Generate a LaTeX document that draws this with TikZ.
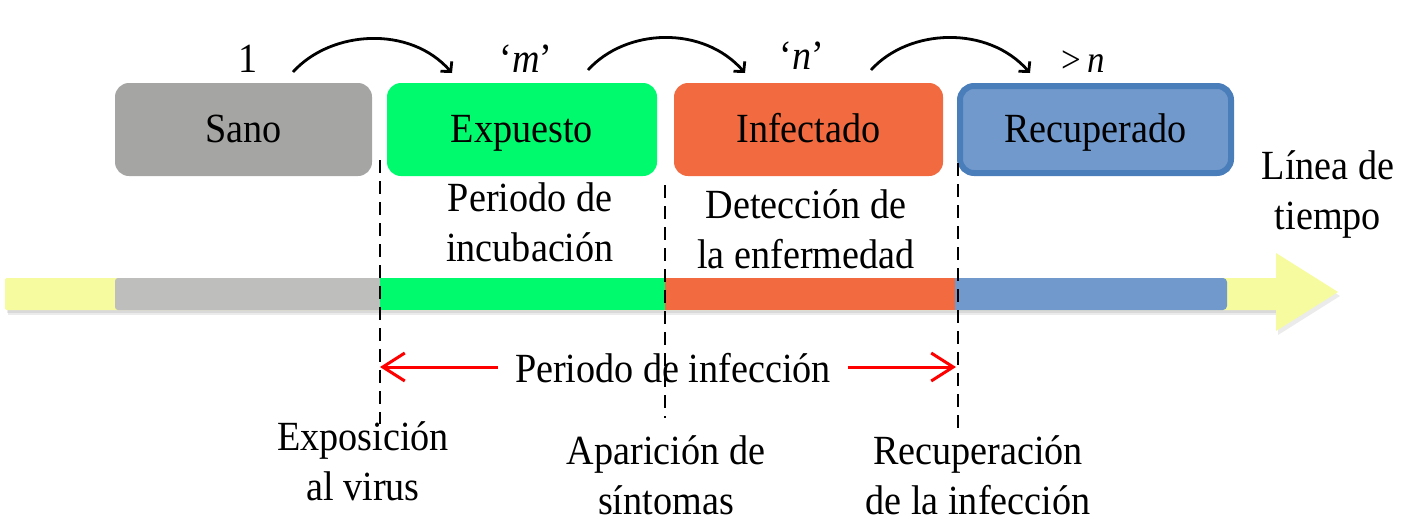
\documentclass[tikz,border=0pt]{standalone}
\usepackage{fontspec}
\setmainfont{Liberation Serif}[FakeStretch=0.92]
\usetikzlibrary{arrows.meta,calc}
\definecolor{grayBox}{HTML}{A5A6A4}
\definecolor{grayBar}{HTML}{BEBFBD}
\definecolor{greenC}{HTML}{00FA6E}
\definecolor{orangeC}{HTML}{F16A40}
\definecolor{blueC}{HTML}{7199CC}
\definecolor{blueBorder}{HTML}{4A7EBB}
\definecolor{yellowC}{HTML}{F5FB9E}
\begin{document}
\begin{tikzpicture}[x=1pt,y=-1pt,
  every node/.style={font=\fontsize{41.5}{50}\selectfont, inner sep=0pt},
  statebox/.style={rounded corners=14pt, minimum width=257pt, minimum height=93pt,
    text height=26pt, text depth=0pt},
  toplabel/.style={anchor=base},
  multilabel/.style={align=center},
  jump/.style={line width=2.8pt, -{Straight Barb[length=7pt,width=15pt,line width=2.8pt]}},
  dashline/.style={line width=2.8pt, dash pattern=on 13pt off 8pt},
  redarrow/.style={red, line width=3pt, -{Straight Barb[length=22pt,width=28pt,line width=3pt]}}
]
\useasboundingbox (0,0) rectangle (1403,528);

% timeline shadow
\fill[black, opacity=0.08] (8,282) rectangle (1282,315);
\fill[black, opacity=0.08] (1278,257) -- (1340,296) -- (1278,335) -- cycle;
\fill[black, opacity=0.08] (7,280) rectangle (1281,313);
% timeline arrow
\fill[yellowC, rounded corners=2pt] (5,278) rectangle (1282,310);
\fill[yellowC] (1276,253) -- (1338,292) -- (1276,331) -- cycle;
% coloured segments
\fill[grayBar, rounded corners=3pt] (115,278) rectangle (385,310);
\fill[greenC] (380,278) rectangle (665,310);
\fill[orangeC] (665,278) rectangle (958,310);
\fill[blueC, rounded corners=4pt] (955,278) rectangle (1227,310);
\fill[blueC] (955,278) rectangle (965,310);

% state boxes
\node[statebox, fill=grayBox] (sano) at (243.5,129.5) {Sano};
\node[statebox, fill=greenC, minimum width=270pt] (expuesto) at (522,129.5) {Expuesto};
\node[statebox, fill=orangeC, minimum width=269pt] (infectado) at (808.5,129.5) {Infectado};
\node[statebox, fill=blueC, draw=blueBorder, line width=6pt, minimum width=271pt, minimum height=87pt] (recuperado) at (1095.5,129.5) {Recuperado};

% labels above
\node[toplabel] (one) at (248,72) {1};
\node[toplabel] (m) at (526,72) {‘\textit{m}’};
\node[toplabel] (n) at (802,69) {‘\textit{n}’};
\node[toplabel] (gn) at (1083,72) {\fontsize{38}{44}\selectfont >\,\textit{n}};

% curved arrows
\coordinate (a1s) at (293,72);
\coordinate (a1e) at (452,73);
\coordinate (a2s) at (588,70);
\coordinate (a2e) at (745,73);
\coordinate (a3s) at (871,70);
\coordinate (a3e) at (1030,73);
\draw[jump] (a1s) .. controls +(38,-42) and +(-42,-48) .. (a1e);
\draw[jump] (a2s) .. controls +(38,-42) and +(-42,-48) .. (a2e);
\draw[jump] (a3s) .. controls +(38,-42) and +(-42,-48) .. (a3e);

% dashed markers
\draw[dashline] (380,160) -- (380,424);
\draw[dashline] (665,185) -- (665,418);
\draw[dashline] (958,163) -- (958,430);

% middle labels
\node[multilabel] (incub) at (530,222) {Periodo de\\incubación};
\node[multilabel] (deteccion) at (806,229) {Detección de\\la enfermedad};
\node[multilabel] (linea) at (1328,194) {Línea de\\tiempo};

% infection period
\node[text height=31pt, text depth=0pt, inner xsep=17pt] (pinf) at (673,367) {Periodo de infección};
\coordinate (dA) at (380,367);
\coordinate (dC) at (956,367);
\draw[redarrow] (pinf.west) -- (dA);
\draw[redarrow] (pinf.east) -- (dC);

% bottom labels
\node[multilabel] (expos) at (363,461) {Exposición\\al virus};
\node[multilabel] (aparic) at (666,475) {Aparición de\\síntomas};
\node[multilabel] (recup) at (978,475) {Recuperación\\de la infección};
\end{tikzpicture}
\end{document}
